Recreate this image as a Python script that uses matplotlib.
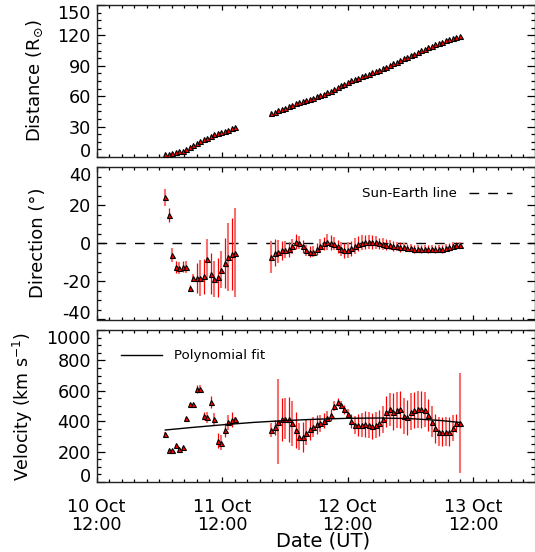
import numpy as np
import pandas as pd
import matplotlib
matplotlib.use('Agg')
import matplotlib.pyplot as plt
from matplotlib.ticker import MultipleLocator
import matplotlib.dates as mdates

plt.rcParams['font.family'] = ['DejaVu Sans']
plt.rcParams['mathtext.fontset'] = 'dejavusans'
plt.rcParams['axes.unicode_minus'] = False

# ---------------- data ----------------
seg1_start = '2012-10-11 01:09'
seg2_start = '2012-10-11 21:25'
cadence = '40min'

dist1 = [2.5, 3.3, 4.0, 4.8, 5.6, 6.4, 7.8, 9.6, 11.4, 13.6, 15.8, 17.4, 19.0,
         20.8, 22.3, 23.3, 24.2, 25.4, 26.8, 28.2, 29.6]
dist2 = [43.5, 44.7, 45.9, 47.4, 48.8, 50.2, 51.6, 53.0, 54.3, 55.3, 56.3, 57.4,
         58.6, 60.0, 61.3, 62.6, 64.0, 65.4, 67.1, 68.8, 70.6, 72.3, 74.0, 75.6,
         77.0, 78.3, 79.6, 80.9, 82.3, 83.6, 84.9, 86.2, 87.5, 89.0, 90.6, 92.3,
         93.9, 95.5, 97.3, 98.8, 100.2, 101.8, 103.5, 105.2, 106.9, 108.5, 110.0,
         111.4, 112.7, 113.8, 115.0, 116.1, 117.3, 118.6, 119.9]

dir1 = [24.0, 14.8, -6.1, -12.5, -13.0, -12.2, -12.5, -23.5, -18.3, -18.3, -18.3,
        -17.4, -8.4, -16.0, -18.6, -17.9, -13.9, -10.4, -7.3, -5.7, -4.9]
dir1_err = [4.3, 3.7, 3.5, 3.3, 3.0, 3.0, 3.0, 1.7, 2.0, 7.8, 9.6, 9.0, 10.6,
            10.7, 9.4, 10.3, 9.8, 13.2, 17.8, 18.7, 23.5]
dir2 = [-7.3, -4.9, -4.4, -3.8, -3.5, -3.1, -1.7, 0.9, 0.3, -1.7, -3.8, -4.4,
        -4.4, -3.1, -1.4, 0.0, 0.7, 0.3, -0.3, -1.7, -3.1, -3.8, -3.5, -2.6,
        -1.4, -0.3, 0.3, 0.7, 0.7, 0.7, 0.5, 0.0, -0.3, -0.7, -1.0, -1.4, -1.7,
        -1.9, -2.1, -2.3, -2.6, -3.0, -3.1, -3.1, -3.1, -3.0, -3.0, -3.0, -3.0,
        -3.0, -2.6, -2.1, -1.4, -1.0, -1.0]
dir2_err = [8.5, 7.0, 6.0, 5.0, 4.5, 4.0, 4.0, 4.0, 3.5, 3.5, 3.0, 3.0, 3.0, 3.0,
            3.5, 3.5, 4.0, 4.0, 3.5, 3.5, 3.5, 4.0, 4.0, 4.0, 4.0, 4.0, 4.0, 3.5,
            3.5, 3.5, 3.5, 3.0, 3.0, 3.0, 2.5, 2.5, 2.5, 2.5, 2.0, 2.0, 2.0, 2.0,
            2.0, 2.0, 2.0, 2.0, 2.0, 2.0, 2.0, 2.0, 2.0, 2.0, 2.0, 1.5, 1.5]

vel1 = [315, 210, 210, 243, 215, 232, 423, 515, 511, 614, 614, 434, 425, 528,
        412, 272, 259, 342, 393, 410, 412]
vel1_err = [16, 0, 0, 0, 0, 0, 0, 0, 0, 27, 27, 27, 37, 38, 44, 50, 50, 44, 50,
            50, 15]
vel2 = [342, 360, 397, 412, 417, 412, 386, 342, 298, 298, 325, 346, 364, 379,
        386, 404, 419, 443, 500, 528, 506, 478, 447, 401, 375, 375, 375, 379, 375,
        368, 375, 390, 412, 463, 478, 463, 474, 478, 434, 425, 463, 474, 478, 478,
        474, 441, 397, 353, 331, 331, 331, 331, 353, 390, 390]
vel2_err = [47, 50, 280, 140, 137, 150, 150, 120, 90, 100, 80, 70, 65, 60, 55, 50,
            45, 40, 30, 25, 25, 30, 35, 45, 60, 75, 80, 85, 85, 85, 85, 85, 90,
            100, 110, 120, 120, 120, 120, 115, 120, 120, 120, 120, 115, 105, 100,
            95, 95, 95, 95, 95, 85, 60, 330]

fit_times = ['2012-10-11 01:09', '2012-10-11 06:00', '2012-10-11 12:00',
             '2012-10-11 18:00', '2012-10-12 00:00', '2012-10-12 06:00',
             '2012-10-12 12:00', '2012-10-12 18:00', '2012-10-13 00:00',
             '2012-10-13 06:00', '2012-10-13 09:25']
fit_vel = [342, 358, 376, 392, 404, 413, 419, 421, 417, 404, 392]

x_start = '2012-10-10 12:00'
x_end = '2012-10-13 23:45'

# ---------------- figure ----------------
t1 = pd.date_range(seg1_start, periods=len(dist1), freq=cadence).to_numpy()
t2 = pd.date_range(seg2_start, periods=len(dist2), freq=cadence).to_numpy()
tf = pd.to_datetime(fit_times).to_numpy()

W, H = 535, 552
fig = plt.figure(figsize=(W / 100, H / 100), dpi=100)

def rect(top, bottom, left=96.5, right=534.5):
    return [left / W, 1 - bottom / H, (right - left) / W, (bottom - top) / H]

ax1 = fig.add_axes(rect(5, 157))
ax2 = fig.add_axes(rect(167, 319.5))
ax3 = fig.add_axes(rect(330, 482))

mk = dict(marker='^', ms=3.6, mfc='red', mec='black', mew=0.8, ls='none', zorder=4)


def draw_errors(ax, t, y, e):
    t = np.asarray(t)
    y = np.asarray(y, dtype=float)
    e = np.asarray(e, dtype=float)
    # alternate bright / soft red bars as in the original rendering
    ax.errorbar(t[0::2], y[0::2], yerr=e[0::2], fmt='none', ecolor='#f77070',
                elinewidth=1.5, capsize=0, zorder=3)
    ax.errorbar(t[1::2], y[1::2], yerr=e[1::2], fmt='none', ecolor='#ff0000',
                elinewidth=0.9, capsize=0, zorder=3)


# distance
for t, d in ((t1, dist1), (t2, dist2)):
    ax1.plot(t, d, **mk)

# direction
ax2.axhline(0, color='black', lw=1.0, ls=(0, (7, 6.5)), label='Sun-Earth line', zorder=2)
for t, d, e in ((t1, dir1, dir1_err), (t2, dir2, dir2_err)):
    draw_errors(ax2, t, d, e)
    ax2.plot(t, d, **mk)

# velocity
for t, v, e in ((t1, vel1, vel1_err), (t2, vel2, vel2_err)):
    draw_errors(ax3, t, v, e)
    ax3.plot(t, v, **mk)
ax3.plot(tf, fit_vel, color='black', lw=1.0, label='Polynomial fit', zorder=5)

# axes styling
ylims = [(0, 150), (-40, 40), (0, 1000)]
ymaj = [30, 20, 200]
ymin = [7.5, 5, 50]
ylabels = [r'Distance (R$_{\odot}$)', 'Direction (°)', r'Velocity (km s$^{-1}$)']
ylab_x = [35, 38, 23]
ylab_fs = [13, 13, 12.5]
xmin = np.datetime64(pd.Timestamp(x_start))
xmax = np.datetime64(pd.Timestamp(x_end))

for ax, yl, mj, mn, lab, lx, lfs in zip((ax1, ax2, ax3), ylims, ymaj, ymin,
                                        ylabels, ylab_x, ylab_fs):
    ax.set_xlim(xmin, xmax)
    ax.set_ylim(*yl)
    ax.yaxis.set_major_locator(MultipleLocator(mj))
    ax.yaxis.set_minor_locator(MultipleLocator(mn))
    ax.xaxis.set_major_locator(MultipleLocator(1.0, offset=0.5))
    ax.xaxis.set_minor_locator(MultipleLocator(0.1, offset=0.5))
    ax.xaxis.set_major_formatter(mdates.DateFormatter('%d %b\n%H:%M'))
    ax.tick_params(axis='both', which='both', direction='in', top=True, right=True,
                   colors='black', width=0.9)
    ax.tick_params(axis='y', which='major', length=5.8, pad=4, labelsize=12.7)
    ax.tick_params(axis='y', which='minor', length=3.1)
    ax.tick_params(axis='x', which='major', length=3.3, pad=11.5, labelsize=12.7)
    ax.tick_params(axis='x', which='minor', length=1.9)
    for s in ax.spines.values():
        s.set_linewidth(1.0)
        s.set_color('#222222')
    ax.set_ylabel(lab, fontsize=lfs, va='center', ha='center')
    ax.yaxis.set_label_coords((lx - 96.5) / 438.0, 0.5)
    ax.set_yticks(np.arange(yl[0], yl[1] + 0.1, mj))
    ticks = ax.yaxis.get_major_ticks()
    ticks[0].label1.set_va('baseline')
    ticks[-1].label1.set_va('top')

ax1.tick_params(axis='x', labelbottom=False)
ax2.tick_params(axis='x', labelbottom=False)
for lbl in ax3.get_xticklabels():
    lbl.set_linespacing(1.0)

ax3.set_xlabel('Date (UT)', fontsize=14, va='center')
ax3.xaxis.set_label_coords((323 - 96.5) / 438.0, (482 - 541) / 152.0)

ax2.legend(loc='center right', bbox_to_anchor=((512 - 96.5) / 438.0, (319.5 - 194) / 152.5),
           frameon=False, markerfirst=False, handlelength=3.2, handletextpad=0.9,
           fontsize=9.6, borderpad=0, borderaxespad=0)
ax3.legend(loc='center left', bbox_to_anchor=((121 - 96.5) / 438.0, (482 - 355.8) / 152.0),
           frameon=False, handlelength=3.1, handletextpad=0.9,
           fontsize=9.6, borderpad=0, borderaxespad=0)

fig.savefig('out.png', dpi=100)
